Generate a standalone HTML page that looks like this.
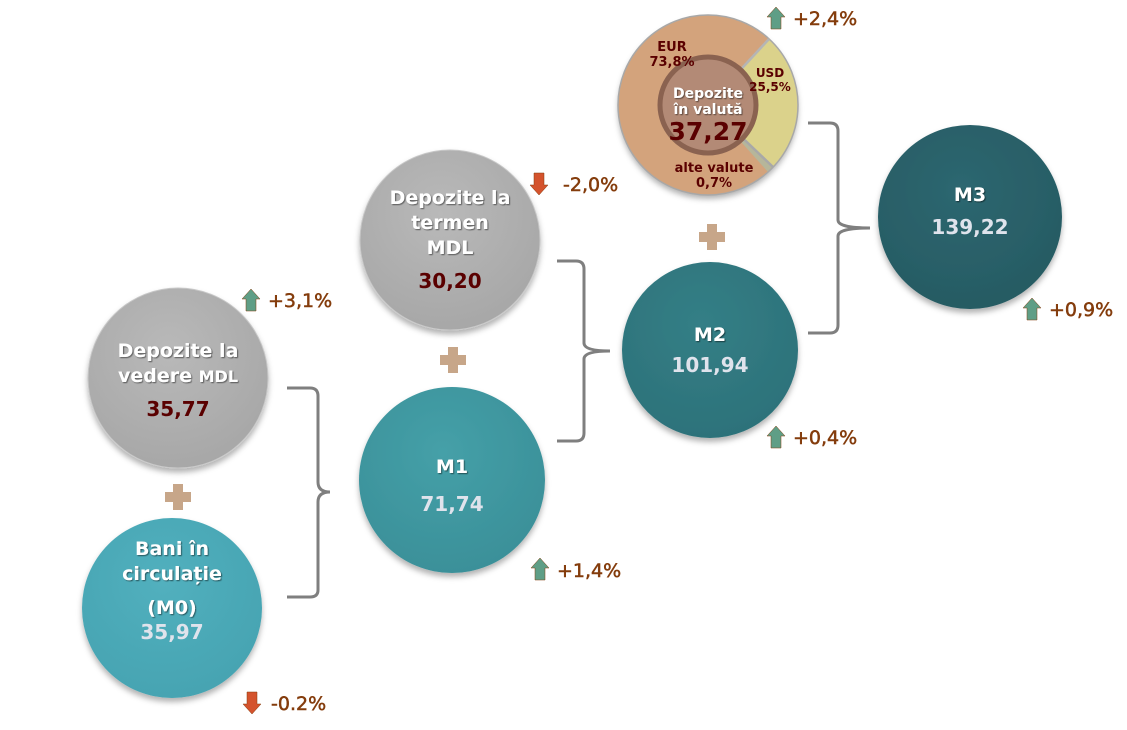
<!DOCTYPE html>
<html><head><meta charset="utf-8"><style>
html,body{margin:0;padding:0;background:#fff;}
svg text{font-family:"DejaVu Sans","Liberation Sans",sans-serif;font-weight:bold;}
</style></head><body>
<svg width="1127" height="725" viewBox="0 0 1127 725" xmlns="http://www.w3.org/2000/svg">
<defs>
<radialGradient id="gGray" cx="45%" cy="35%" r="70%"><stop offset="0" stop-color="#b9b9b9"/><stop offset="1" stop-color="#a6a6a6"/></radialGradient>
<radialGradient id="gM0" cx="45%" cy="35%" r="70%"><stop offset="0" stop-color="#52b0be"/><stop offset="1" stop-color="#45a3b1"/></radialGradient>
<radialGradient id="gM1" cx="45%" cy="35%" r="70%"><stop offset="0" stop-color="#45a0a8"/><stop offset="1" stop-color="#3a8f98"/></radialGradient>
<radialGradient id="gM2" cx="45%" cy="35%" r="70%"><stop offset="0" stop-color="#347f86"/><stop offset="1" stop-color="#2c7179"/></radialGradient>
<radialGradient id="gM3" cx="45%" cy="35%" r="70%"><stop offset="0" stop-color="#2d6770"/><stop offset="1" stop-color="#265a62"/></radialGradient>
<filter id="sh" x="-20%" y="-20%" width="140%" height="150%"><feDropShadow dx="0" dy="4" stdDeviation="3" flood-color="#000" flood-opacity="0.3"/></filter>
<filter id="ts"><feDropShadow dx="1" dy="1" stdDeviation="0.6" flood-color="#000" flood-opacity="0.5"/></filter>
<g id="up"><path d="M0,-11 L9,-1 L5,-1 L5,11 L-5,11 L-5,-1 L-9,-1 Z" fill="#5f9e86"/></g>
<g id="dn"><path d="M0,11 L9,1 L5,1 L5,-11 L-5,-11 L-5,1 L-9,1 Z" fill="#d4532d"/></g>
<g id="plus"><path d="M-5,-13 H5 V-5 H13 V5 H5 V13 H-5 V5 H-13 V-5 H-5 Z" fill="#c7a689"/></g>
</defs>

<g fill="none" stroke="#7f7f7f" stroke-width="3">
<path d="M287,388 H310 Q318,388 318,396 V482 Q318,492 330,492 Q318,492 318,502 V590 Q318,597 310,597 H287"/>
<path d="M557,261 H576 Q584,261 584,269 V343 Q584,351 610,351 Q584,351 584,359 V433 Q584,441 576,441 H557"/>
<path d="M808,123 H830 Q838,123 838,131 V220 Q838,228 870,228 Q838,228 838,236 V325 Q838,333 830,333 H808"/>
</g>

<g filter="url(#sh)">
<circle cx="178" cy="378" r="90" fill="url(#gGray)" stroke="#c8c8c8" stroke-width="1"/>
<circle cx="172" cy="608" r="90" fill="url(#gM0)"/>
<circle cx="450" cy="240" r="90" fill="url(#gGray)" stroke="#c8c8c8" stroke-width="1"/>
<circle cx="452" cy="480" r="93" fill="url(#gM1)"/>
<circle cx="710" cy="350" r="88" fill="url(#gM2)"/>
<circle cx="970" cy="217" r="92" fill="url(#gM3)"/>
</g>

<g filter="url(#sh)">
<circle cx="708" cy="105" r="90" fill="#d3a37b"/>
</g>
<path d="M708,105 L769,39 A90,90 0 0 1 773,167 Z" fill="#dbd28b"/>
<path d="M708,105 L773,167 A90,90 0 0 1 768,172 Z" fill="#b6b69a"/>
<circle cx="708" cy="105" r="90" fill="none" stroke="#a8a8a8" stroke-width="1.5"/>
<line x1="708" y1="105" x2="769" y2="39" stroke="#b5b5b5" stroke-width="2.5"/>
<line x1="708" y1="105" x2="773" y2="167" stroke="#a8a8a8" stroke-width="2.5"/>
<circle cx="708" cy="105" r="48" fill="#b38a76" stroke="#8a6250" stroke-width="5"/>

<text x="672" y="51" font-size="13" fill="#5a0000" text-anchor="middle">EUR</text>
<text x="672" y="66" font-size="13" fill="#5a0000" text-anchor="middle">73,8%</text>
<text x="770" y="77" font-size="12" fill="#5a0000" text-anchor="middle">USD</text>
<text x="770" y="91" font-size="12" fill="#5a0000" text-anchor="middle">25,5%</text>
<text x="714" y="172" font-size="13" fill="#5a0000" text-anchor="middle">alte valute</text>
<text x="714" y="187" font-size="13" fill="#5a0000" text-anchor="middle">0,7%</text>
<g filter="url(#ts)" fill="#fff" font-size="14" text-anchor="middle">
<text x="708" y="98">Depozite</text><text x="708" y="114">în valută</text></g>
<text x="708" y="140" font-size="25" fill="#5a0000" text-anchor="middle">37,27</text>

<g filter="url(#ts)" fill="#fff" font-size="19" text-anchor="middle">
<text x="178" y="357">Depozite la</text>
<text x="178" y="382">vedere <tspan font-size="16">MDL</tspan></text>
<text x="172" y="555">Bani în</text>
<text x="172" y="580">circulație</text>
<text x="172" y="614">(M0)</text>
<text x="450" y="204">Depozite la</text>
<text x="450" y="229">termen</text>
<text x="450" y="254">MDL</text>
<text x="452" y="473">M1</text>
<text x="710" y="341">M2</text>
<text x="970" y="201">M3</text>
</g>
<g font-size="20" text-anchor="middle">
<text x="178" y="416" fill="#5a0000">35,77</text>
<text x="172" y="639" fill="#dfe3ec">35,97</text>
<text x="450" y="288" fill="#5a0000">30,20</text>
<text x="452" y="511" fill="#dfe3ec">71,74</text>
<text x="710" y="372" fill="#dfe3ec">101,94</text>
<text x="970" y="234" fill="#dfe3ec">139,22</text>
</g>

<use href="#plus" x="178" y="497"/>
<use href="#plus" x="453" y="360"/>
<use href="#plus" x="712" y="237"/>

<g font-size="19" fill="#843c0c" stroke="#843c0c" stroke-width="0.5">
<use href="#up" x="251" y="300"/><text x="268" y="307" style="font-weight:normal">+3,1%</text>
<use href="#dn" x="252" y="703"/><text x="271" y="710" style="font-weight:normal">-0.2%</text>
<use href="#dn" x="539" y="184"/><text x="563" y="191" style="font-weight:normal">-2,0%</text>
<use href="#up" x="540" y="569"/><text x="557" y="577" style="font-weight:normal">+1,4%</text>
<use href="#up" x="776" y="437"/><text x="793" y="444" style="font-weight:normal">+0,4%</text>
<use href="#up" x="776" y="18"/><text x="793" y="25" style="font-weight:normal">+2,4%</text>
<use href="#up" x="1032" y="309"/><text x="1049" y="316" style="font-weight:normal">+0,9%</text>
</g>
</svg>
</body></html>
